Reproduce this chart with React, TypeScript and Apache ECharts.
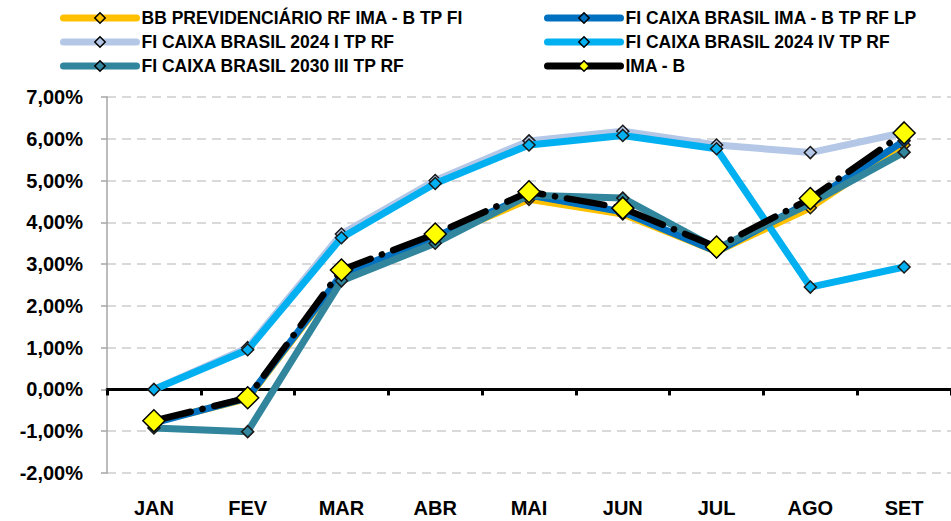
import React, { useEffect, useRef } from "react";
import * as echarts from "echarts";

const months = ["JAN", "FEV", "MAR", "ABR", "MAI", "JUN", "JUL", "AGO", "SET"];
const yTicks = { min: -2, max: 7, interval: 1 };

const seriesNames = [
  "BB PREVIDENCIÁRIO RF IMA - B TP FI",
  "FI CAIXA BRASIL IMA - B TP RF LP",
  "FI CAIXA BRASIL 2024 I TP RF",
  "FI CAIXA BRASIL 2024 IV TP RF",
  "FI CAIXA BRASIL 2030 III TP RF",
  "IMA - B",
];

const bbPrev = [-0.78, -0.22, 2.72, 3.6, 4.55, 4.2, 3.3, 4.35, 5.85];
const caixaImaB = [-0.8, -0.2, 2.75, 3.65, 4.65, 4.25, 3.3, 4.5, 5.95];
const caixa2024I = [0.0, 1.0, 3.72, 5.0, 5.95, 6.18, 5.85, 5.67, 6.15];
const caixa2024IV = [0.0, 0.95, 3.63, 4.93, 5.85, 6.08, 5.76, 2.45, 2.93];
const caixa2030III = [-0.92, -1.01, 2.6, 3.5, 4.65, 4.58, 3.37, 4.45, 5.68];
const imaB = [-0.75, -0.2, 2.86, 3.72, 4.73, 4.34, 3.41, 4.57, 6.14];

const seriesData = [bbPrev, caixaImaB, caixa2024I, caixa2024IV, caixa2030III, imaB];
const colors = ["#FFC000", "#0070C0", "#B4C7E7", "#00B0F0", "#31859C", "#000000"];

const FONT = '"Liberation Sans", Arial, sans-serif';

export default function App() {
  const ref = useRef<HTMLDivElement>(null);
  useEffect(() => {
    if (!ref.current) return;
    const chart = echarts.init(ref.current, undefined, { renderer: "svg" });
    const series = seriesNames.map((name, i) => {
      const isIma = i === 5;
      return {
        name,
        type: "line",
        data: seriesData[i],
        xAxisIndex: 0,
        yAxisIndex: 0,
        symbol: "diamond",
        symbolSize: isIma ? 22 : 12,
        z: 2 + i,
        lineStyle: isIma
          ? { color: "#000", width: 6.5, type: [38, 12, 0.1, 12], cap: "round" }
          : { color: colors[i], width: 7, cap: "round", join: "round" },
        itemStyle: isIma
          ? { color: "#FFFF00", borderColor: "#000", borderWidth: 1.5 }
          : { color: colors[i], borderColor: "#1a1a1a", borderWidth: 1.5 },
        emphasis: { disabled: true },
      };
    });
    const legendCommon = {
      orient: "vertical",
      top: 6,
      padding: 0,
      itemGap: 0,
      itemWidth: 73,
      itemHeight: 13,
      lineStyle: { width: 7, cap: "round", type: "solid" },
      itemStyle: { borderWidth: 1.5, borderColor: "#000" },
      textStyle: {
        fontFamily: FONT,
        fontWeight: "bold",
        fontSize: 17.5,
        color: "#000",
        lineHeight: 24,
      },
      selectedMode: false,
    };
    chart.setOption({
      animation: false,
      backgroundColor: "#fff",
      textStyle: { fontFamily: FONT },
      legend: [
        { ...legendCommon, left: 60, data: [seriesNames[0], seriesNames[2], seriesNames[4]] },
        { ...legendCommon, left: 544, data: [seriesNames[1], seriesNames[3], seriesNames[5]] },
      ],
      grid: { left: 107, right: 0, top: 97, bottom: 48, containLabel: false },
      xAxis: [
        {
          type: "category",
          data: months,
          position: "bottom",
          boundaryGap: true,
          axisLine: { show: true, onZero: true, lineStyle: { color: "#000", width: 3 } },
          axisTick: { show: true, interval: 0, length: 6, lineStyle: { color: "#000", width: 3 } },
          axisLabel: { show: false },
          splitLine: { show: false },
        },
        {
          type: "category",
          data: months,
          position: "bottom",
          boundaryGap: true,
          axisLine: { show: false, onZero: false },
          axisTick: { show: false },
          axisLabel: {
            show: true,
            margin: 25,
            fontFamily: FONT,
            fontWeight: "bold",
            fontSize: 20,
            color: "#000",
          },
          splitLine: { show: false },
        },
      ],
      yAxis: {
        type: "value",
        min: yTicks.min,
        max: yTicks.max,
        interval: yTicks.interval,
        axisLine: { show: true, lineStyle: { color: "#A6A6A6", width: 1.5 } },
        axisTick: { show: true, length: 6, lineStyle: { color: "#A6A6A6", width: 1.5 } },
        axisLabel: {
          margin: 24,
          fontFamily: FONT,
          fontWeight: "bold",
          fontSize: 20,
          color: "#000",
          formatter: (v: number) => v.toFixed(2).replace(".", ",") + "%",
        },
        splitLine: { show: true, lineStyle: { color: "#D9D9D9", width: 2, type: [9, 6] } },
      },
      series,
    });
    return () => chart.dispose();
  }, []);
  return <div ref={ref} style={{ width: 951, height: 521, position: "absolute", left: 0, top: 0 }} />;
}
